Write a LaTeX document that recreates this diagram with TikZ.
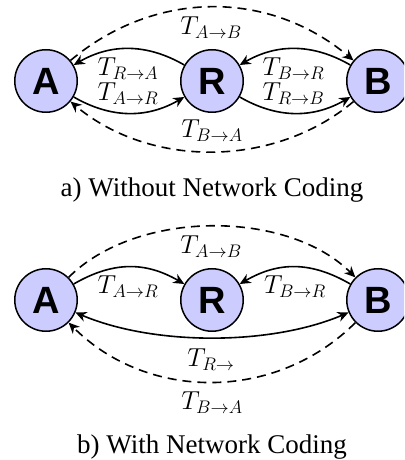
\RequirePackage{fix-cm}
\documentclass[tikz,border=0pt]{standalone}
\usepackage{fontspec}
\setmainfont{Liberation Serif}
\newfontfamily\nodefont{Liberation Sans}
\usetikzlibrary{arrows.meta}
\definecolor{nodefill}{RGB}{204,204,255}
\tikzset{
  station/.style={circle,draw=black,line width=1.5pt,fill=nodefill,minimum size=62.5pt,inner sep=0pt,
    font=\nodefont\bfseries\fontsize{38}{40}\selectfont},
  tipk/.tip={Stealth[length=11pt,width=10pt,inset=3.5pt]},
  link/.style={line width=1.6pt,-tipk},
  linkboth/.style={line width=1.6pt,tipk-tipk},
  linkd/.style={link,dash pattern=on 9pt off 6pt},
  lbl/.style={font=\fontsize{26}{30}\selectfont,inner sep=0pt,anchor=base},
  capt/.style={font=\fontsize{27}{32}\selectfont,inner sep=0pt,anchor=base},
}
\begin{document}
\begin{tikzpicture}[x=1pt,y=1pt]
\useasboundingbox (0,0) rectangle (404,460);
\clip (0,0) rectangle (404,460);
% ---------- a) without network coding
\node[station] (A) at (46,379) {A};
\node[station] (R) at (212,379) {R};
\node[station] (B) at (378,379) {B};
\draw[linkd] (A) to[out=40,in=140,looseness=1.0] (B);
\draw[linkd] (B) to[out=-140,in=-40,looseness=0.94] (A);
\draw[link] (R) to[out=150,in=30] (A);
\draw[link] (A) to[out=-30,in=-150] (R);
\draw[link] (B) to[out=150,in=30] (R);
\draw[link] (R) to[out=-30,in=-150] (B);
\node[lbl] (lab1) at (211,425) {$T_{A\to B}$};
\node[lbl] (lra1) at (128,384) {$T_{R\to A}$};
\node[lbl] (lar1) at (128,359.5) {$T_{A\to R}$};
\node[lbl] (lbr1) at (293.5,384) {$T_{B\to R}$};
\node[lbl] (lrb1) at (293.5,359.5) {$T_{R\to B}$};
\node[lbl] (lba1) at (212,322) {$T_{B\to A}$};
\node[capt] (capa) at (212,263.5) {a) Without Network Coding};
% ---------- b) with network coding
\node[station] (A2) at (46,160) {A};
\node[station] (R2) at (212,160) {R};
\node[station] (B2) at (378,160) {B};
\draw[linkd] (A2) to[out=45,in=135,looseness=0.86] (B2);
\draw[linkd] (B2) to[out=-135,in=-45,looseness=1.0] (A2);
\draw[link] (A2) to[out=30,in=150,looseness=1.05] (R2);
\draw[link] (B2) to[out=150,in=30,looseness=1.05] (R2);
\draw[linkboth] (A2) to[out=-23,in=-157,looseness=0.8] (B2);
\node[lbl] (lab2) at (211,206) {$T_{A\to B}$};
\node[lbl] (lar2) at (128,166) {$T_{A\to R}$};
\node[lbl] (lbr2) at (295,166) {$T_{B\to R}$};
\node[lbl] (lr2) at (211,93) {$T_{R\to}$};
\node[lbl] (lba2) at (212,50) {$T_{B\to A}$};
\node[capt] (capb) at (212,6.7) {b) With Network Coding};
\end{tikzpicture}
\end{document}
